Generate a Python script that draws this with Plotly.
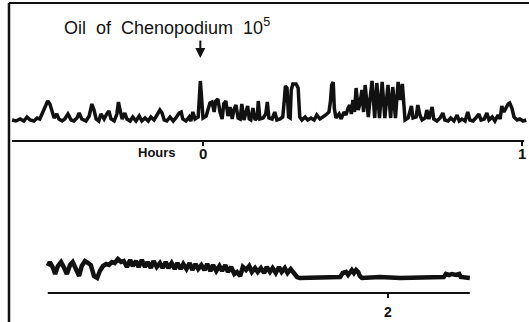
import plotly.graph_objects as go

# ---- data (time in minutes from injection, amplitude in mm of lever excursion) ----
upper_min = [-35.9, -35.2, -34.4, -33.7, -33.1, -32.5, -31.8, -31.2, -30.7, -30.1, -29.5, -29.2, -28.8, -28.4,
             -28.0, -27.5, -27.1, -26.5, -26.0, -25.4, -24.8, -24.3, -23.7, -23.3, -22.8, -22.0, -21.4, -20.9,
             -20.5, -20.1, -19.6, -19.2, -18.6, -18.1, -17.7, -17.3, -16.7, -16.2, -15.9, -15.6, -15.2, -14.7,
             -14.3, -13.7, -13.2, -12.6, -12.0, -11.5, -10.9, -10.3, -9.8, -9.2, -8.7, -8.1, -7.7, -7.3, -6.8,
             -6.2, -5.6, -5.1, -4.5, -4.1, -3.8, -3.2, -2.6, -2.3, -1.9, -1.5, -0.9, -0.7, -0.5, -0.3, 0.0,
             0.6, 0.9, 1.3, 1.7, 2.1, 2.4, 2.8, 3.2, 3.6, 3.9, 4.3, 4.7, 5.1, 5.5, 5.8, 6.2, 6.6, 7.0, 7.3,
             7.7, 8.1, 8.4, 8.7, 9.0, 9.4, 9.8, 10.2, 10.4, 10.7, 11.3, 11.8, 12.1, 12.4, 13.0, 13.5, 13.9,
             14.5, 15.0, 15.3, 15.5, 15.8, 16.1, 16.4, 16.6, 16.9, 17.5, 17.9, 18.2, 18.6, 19.2, 19.7, 20.3,
             20.9, 21.4, 22.0, 22.6, 23.1, 23.7, 24.0, 24.2, 24.5, 24.7, 25.0, 25.6, 26.0, 26.5, 26.9, 27.3,
             27.6, 27.9, 28.2, 28.5, 28.8, 29.2, 29.5, 29.9, 30.2, 30.5, 30.8, 31.1, 31.4, 31.8, 32.3, 32.7,
             33.2, 33.7, 34.2, 34.8, 35.3, 35.7, 36.2, 36.7, 37.1, 37.5, 38.0, 38.6, 38.9, 39.2, 39.5, 40.1,
             40.4, 40.8, 41.2, 41.8, 42.1, 42.5, 43.1, 43.4, 44.0, 44.6, 45.1, 45.5, 46.1, 46.6, 47.2, 47.8,
             48.2, 48.7, 49.3, 49.8, 50.2, 50.8, 51.3, 51.9, 52.3, 52.9, 53.4, 53.8, 54.4, 54.9, 55.5, 55.9,
             56.2, 56.6, 57.0, 57.4, 57.7, 58.1, 58.5, 59.1, 59.6, 60.2, 60.8]
upper_amp = [0, -1, 1, -1, 3, 0, -1, 2, 1, 8, 15, 19, 16, 8,
             2, 6, 1, -1, 1, 6, 0, -1, 2, 7, 1, -1, 4, 16,
             10, 1, -1, 6, 1, 6, 9, 1, -1, 6, 18, 10, 1, 7,
             1, -1, 3, -1, 4, -1, 2, -1, 3, 0, 5, 10, 7, 0, -1,
             3, -1, 2, 7, 8, 1, -1, 3, -1, 8, 1, 3, 16, 39, 25, 2,
             4, 10, 17, 18, 8, 19, 21, 8, 1, 16, 19, 4, 13, 1, 10, 15, 2, 1, 16,
             0, 8, 14, 1, 0, 12, 0, 2, 19, 1, 2, 6, 18, 2, 1, 8, 0,
             1, 3, 20, 34, 32, 3, 2, 30, 36, 36, 32, 3, 0, 3, 0, 2,
             0, 5, 1, 3, 5, 8, 20, 35, 38, 12, 2, 6, 1, 8, 5, 12,
             15, 6, 20, 8, 32, 10, 16, 30, 8, 35, 20, 3, 20, 39, 2, 37,
             2, 38, 2, 35, 2, 33, 2, 38, 20, 36, 0, 2, 8, 14, 2, 3,
             15, 5, 0, 2, 10, 1, 13, 1, -1, 2, 7, 0, -1, 2, -1, 5,
             -1, 1, -1, 8, 0, -1, 2, 6, 0, 1, 7, 0, 3, -1, 5, 1,
             14, 8, 12, 16, 17, 12, 3, 0, 1, -1, 0]

lower_min = [56.0, 56.4, 57.0, 57.4, 57.9, 58.5, 59.1, 59.6, 60.2, 60.7, 61.3, 61.9, 62.4, 63.0, 63.6, 64.1,
             64.7, 65.3, 65.8, 66.4, 67.0, 67.5, 68.1, 68.6, 69.2, 69.8,
             70.3, 70.9, 71.5, 72.0, 72.6, 73.1, 73.7, 74.3, 74.8, 75.4, 75.9, 76.5, 77.1, 77.6, 78.2, 78.7,
             79.3, 79.9, 80.4, 81.0, 81.5, 82.1, 82.7, 83.2, 83.8, 84.3, 84.9, 85.5, 86.0, 86.6, 87.1, 87.7,
             88.3, 88.8, 89.4, 89.9, 90.5, 91.1, 91.6, 92.2, 92.7, 93.3, 93.9, 94.4, 95.0, 95.5, 96.1, 96.7,
             97.2, 97.8, 98.3, 98.9, 99.5, 100.0, 100.6, 101.1, 101.7, 102.3,
             102.9, 103.4, 107.2, 111.0, 111.5, 112.1, 112.5, 112.9, 113.2, 113.6, 114.0, 114.4, 114.7, 115.1,
             118.5, 122.3, 127.9, 130.5, 130.9, 131.5, 132.0, 132.8, 133.4, 133.7, 135.4]
lower_amp = [12, 16, 10, 4, 12, 16, 10, 4, 13, 16, 9, 2, 12, 17, 15, 13,
             2, 0, 7, 12, 14, 13, 16, 15, 19, 16,
             17, 11, 18, 12, 17, 11, 18, 11, 16, 10, 17, 11, 15, 10, 16, 10,
             15, 9, 15, 9, 14, 9, 15, 8, 14, 9, 13, 8, 14, 7, 13, 7,
             12, 7, 13, 6, 11, 4, 6, 2, 11, 8, 12, 6, 10, 6, 10, 5,
             11, 6, 10, 5, 11, 6, 10, 5, 9, 5,
             1, 0, 1, 1, 5, 6, 3, 7, 8, 5, 8, 6, 2, 0,
             1, 0, 0, 1, 4, 3, 4, 3, 4, 1, 0]

upper_ticks = [0, 60]
upper_tick_text = ["0", "1"]
lower_ticks = [120]
lower_tick_text = ["2"]
upper_axis_span = [-35.9, 60.4]
lower_axis_span = [56.0, 135.4]
title_text = "Oil&nbsp; of&nbsp; Chenopodium&nbsp; 10<sup>5</sup>"
axis_label = "Hours"

INK = "#111111"

fig = go.Figure()
fig.add_trace(go.Scatter(x=upper_min, y=upper_amp, mode="lines",
                         line=dict(color=INK, width=3.5), xaxis="x", yaxis="y",
                         showlegend=False, hoverinfo="skip"))
fig.add_trace(go.Scatter(x=lower_min, y=lower_amp, mode="lines",
                         line=dict(color=INK, width=4.5), xaxis="x2", yaxis="y2",
                         showlegend=False, hoverinfo="skip"))

shapes = []
# time-scale lines
shapes.append(dict(type="line", xref="x", yref="y", x0=upper_axis_span[0], x1=upper_axis_span[1],
                   y0=-21, y1=-21, line=dict(color=INK, width=2)))
shapes.append(dict(type="line", xref="x2", yref="y2", x0=lower_axis_span[0], x1=lower_axis_span[1],
                   y0=-15, y1=-15, line=dict(color=INK, width=2)))
for t in upper_ticks:
    shapes.append(dict(type="line", xref="x", yref="y", x0=t, x1=t, y0=-21, y1=-26,
                       line=dict(color=INK, width=2)))
for t in lower_ticks:
    shapes.append(dict(type="line", xref="x2", yref="y2", x0=t, x1=t, y0=-15, y1=-20,
                       line=dict(color=INK, width=2)))
# frame (left and top edges of the kymograph sheet)
shapes.append(dict(type="line", xref="paper", yref="paper", x0=0.017, x1=0.017, y0=0, y1=0.991,
                   line=dict(color=INK, width=2.5)))
shapes.append(dict(type="line", xref="paper", yref="paper", x0=0.017, x1=1, y0=0.991, y1=0.991,
                   line=dict(color=INK, width=2)))

annotations = []
for t, s in zip(upper_ticks, upper_tick_text):
    annotations.append(dict(x=t, y=-33, xref="x", yref="y", text="<b>%s</b>" % s, showarrow=False,
                            font=dict(family="Liberation Sans", size=15, color=INK)))
for t, s in zip(lower_ticks, lower_tick_text):
    annotations.append(dict(x=t, y=-34, xref="x2", yref="y2", text="<b>%s</b>" % s, showarrow=False,
                            font=dict(family="Liberation Sans", size=14, color=INK)))
annotations.append(dict(x=-8.6, y=-32, xref="x", yref="y", text="<b>%s</b>" % axis_label, showarrow=False,
                        font=dict(family="Liberation Sans", size=13, color=INK)))
annotations.append(dict(x=-26.6, y=94, xref="x", yref="y", xanchor="left", text=title_text,
                        showarrow=False, font=dict(family="Liberation Sans", size=18, color=INK)))
annotations.append(dict(x=-0.5, y=62, xref="x", yref="y", ax=0, ay=-19, text="", showarrow=True,
                        arrowhead=2, arrowsize=1, arrowwidth=2, arrowcolor=INK))

fig.update_layout(
    width=529, height=322,
    margin=dict(l=0, r=0, t=0, b=0),
    paper_bgcolor="white", plot_bgcolor="white",
    xaxis=dict(range=[-38.18, 61.32], visible=False, domain=[0, 1]),
    yaxis=dict(range=[-202, 120], visible=False, domain=[0, 1]),
    xaxis2=dict(range=[47.02, 146.53], visible=False, overlaying="x", anchor="y2"),
    yaxis2=dict(range=[-44, 278], visible=False, overlaying="y", anchor="x2"),
    shapes=shapes, annotations=annotations,
)

fig.write_html("out.html")
